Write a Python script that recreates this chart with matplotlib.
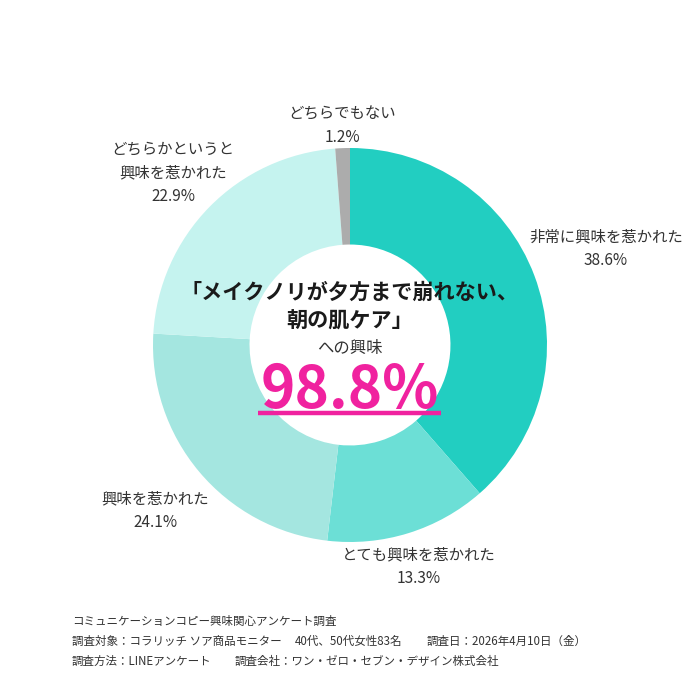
import matplotlib
matplotlib.use("Agg")
import matplotlib.pyplot as plt

plt.rcParams['font.family'] = ['Noto Sans CJK JP', 'DejaVu Sans']

categories = ["非常に興味を惹かれた", "とても興味を惹かれた", "興味を惹かれた",
              "どちらかというと\n興味を惹かれた", "どちらでもない"]
values = [38.6, 13.3, 24.1, 22.9, 1.2]
colors = ["#22cec1", "#6cdfd6", "#a4e6e0", "#c5f3ef", "#acacac"]
total_label = "98.8%"

fig = plt.figure(figsize=(7, 7), dpi=100)
ax = fig.add_axes([0, 0, 1, 1])

cx, cy, R = 350, 700 - 345, 197
ax.pie(values, colors=colors, startangle=90, counterclock=False,
       center=(cx, cy), radius=R, frame=True,
       wedgeprops=dict(width=R * 0.49, linewidth=0))
ax.set_xlim(0, 700)
ax.set_ylim(0, 700)
ax.set_aspect('equal')
ax.axis('off')

txt = "#333333"
label_pos = [(606, 249), (419, 567), (155, 511), (173, 173), (342, 126)]
for cat, v, (x, y) in zip(categories, values, label_pos):
    ax.text(x, 700 - y, f"{cat}\n{v}%", ha='center', va='center',
            fontsize=11.1, color=txt, linespacing=1.5)

# center text
ax.text(350, 700 - 292, "「メイクノリが夕方まで崩れない、", ha='center', va='center',
        fontsize=15.2, fontweight='bold', color="#1a1a1a")
ax.text(350, 700 - 321, "朝の肌ケア」", ha='center', va='center',
        fontsize=15.2, fontweight='bold', color="#1a1a1a")
ax.text(350, 700 - 348, "への興味", ha='center', va='center',
        fontsize=11.8, color=txt)
ax.text(350, 700 - 408, total_label, ha='center', va='baseline',
        fontsize=42, fontweight='bold', color="#f0229f")
ax.plot([258, 441], [700 - 413, 700 - 413], color="#f0229f", linewidth=3.2,
        solid_capstyle='butt')

# footer
fs = 8.3
ax.text(72, 700 - 621, "コミュニケーションコピー興味関心アンケート調査", ha='left', va='center',
        fontsize=fs, color=txt)
ax.text(72, 700 - 641, "調査対象：コラリッチ ソア商品モニター", ha='left', va='center',
        fontsize=fs, color=txt)
ax.text(295, 700 - 641, "40代、50代女性83名", ha='left', va='center', fontsize=fs, color=txt)
ax.text(427, 700 - 641, "調査日：2026年4月10日（金）", ha='left', va='center', fontsize=fs, color=txt)
ax.text(72, 700 - 661, "調査方法：LINEアンケート", ha='left', va='center', fontsize=fs, color=txt)
ax.text(235, 700 - 661, "調査会社：ワン・ゼロ・セブン・デザイン株式会社", ha='left', va='center',
        fontsize=fs, color=txt)

fig.savefig("out.png", dpi=100, facecolor='white')
